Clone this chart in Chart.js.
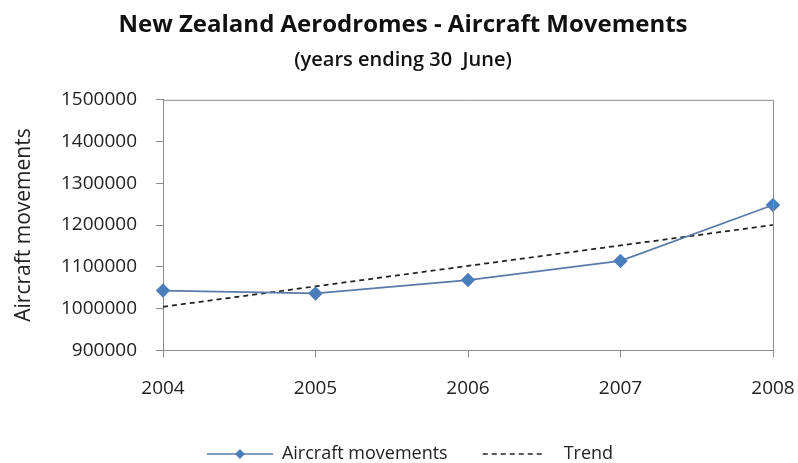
<!DOCTYPE html>
<html lang="en">
<head>
<meta charset="UTF-8" />
<title>New Zealand Aerodromes - Aircraft Movements</title>
<script src="https://cdn.jsdelivr.net/npm/chart.js"></script>
<style>
  html, body { margin: 0; padding: 0; background: #fff; }
  #wrap { width: 798px; height: 463px; }
</style>
</head>
<body>
<div id="wrap"><canvas id="chart" width="798" height="463"></canvas></div>
<script>
const years = ['2004', '2005', '2006', '2007', '2008'];
const movements = [1043000, 1036000, 1068000, 1114000, 1248000];
const trend = [1004000, 1053000, 1102000, 1151000, 1200000];
const yMin = 900000;
const yMax = 1500000;
const yStep = 100000;

const FONT = "'Open Sans', 'Liberation Sans', sans-serif";
const BLUE = '#4a7ebb';
const LINE_BLUE = '#5a7aa8';
const AXIS = '#8c8c8c';

// legend swatches: line + diamond, and dashed line
function swatch(kind) {
  const c = document.createElement('canvas');
  c.width = 80;
  c.height = 16;
  const g = c.getContext('2d');
  if (kind === 'series') {
    g.strokeStyle = LINE_BLUE;
    g.lineWidth = 1.5;
    g.beginPath();
    g.moveTo(14, 8);
    g.lineTo(80, 8);
    g.stroke();
    g.fillStyle = BLUE;
    g.beginPath();
    g.moveTo(47, 3); g.lineTo(52, 8); g.lineTo(47, 13); g.lineTo(42, 8);
    g.closePath();
    g.fill();
  } else {
    g.strokeStyle = '#222';
    g.lineWidth = 1.5;
    g.setLineDash([5, 4]);
    g.beginPath();
    g.moveTo(8, 8);
    g.lineTo(68, 8);
    g.stroke();
  }
  return c;
}

const plotBox = {
  id: 'plotBox',
  afterDatasetsDraw(chart) {
    const { ctx, chartArea: a } = chart;
    ctx.save();
    ctx.strokeStyle = AXIS;
    ctx.lineWidth = 1;
    ctx.beginPath();
    ctx.moveTo(a.left, a.top + 0.5);
    ctx.lineTo(a.right + 0.5, a.top + 0.5);
    ctx.lineTo(a.right + 0.5, a.bottom);
    ctx.stroke();
    ctx.restore();
  }
};

new Chart(document.getElementById('chart'), {
  type: 'line',
  data: {
    labels: years,
    datasets: [
      {
        label: 'Aircraft movements',
        data: movements,
        borderColor: LINE_BLUE,
        borderWidth: 1.75,
        pointStyle: 'rectRot',
        pointRadius: 6,
        pointBackgroundColor: BLUE,
        pointBorderColor: BLUE,
        tension: 0,
        fill: false
      },
      {
        label: 'Trend',
        data: trend,
        borderColor: '#222',
        borderWidth: 1.75,
        borderDash: [5, 4],
        pointRadius: 0,
        tension: 0,
        fill: false
      }
    ]
  },
  options: {
    responsive: false,
    animation: false,
    layout: { padding: { left: 8, right: 0, top: 0, bottom: -10 } },
    plugins: {
      title: {
        display: true,
        text: 'New Zealand Aerodromes - Aircraft Movements',
        color: '#111',
        font: { family: FONT, size: 24, weight: '700' },
        padding: { top: 11, bottom: 8 }
      },
      subtitle: {
        display: true,
        text: '(years ending 30  June)',
        color: '#111',
        font: { family: FONT, size: 20, weight: '600' },
        padding: { top: 0, bottom: 28 }
      },
      legend: {
        position: 'bottom',
        labels: {
          usePointStyle: true,
          pointStyleWidth: 80,
          padding: 27,
          color: '#222',
          font: { family: FONT, size: 18 },
          generateLabels: () => [
            { text: 'Aircraft movements', pointStyle: swatch('series'), fillStyle: 'transparent', strokeStyle: 'transparent', lineWidth: 0, fontColor: '#222', datasetIndex: 0 },
            { text: 'Trend', pointStyle: swatch('trend'), fillStyle: 'transparent', strokeStyle: 'transparent', lineWidth: 0, fontColor: '#222', datasetIndex: 1 }
          ]
        }
      },
      tooltip: { enabled: false }
    },
    scales: {
      x: {
        offset: false,
        grid: { display: true, drawOnChartArea: false, drawTicks: true, tickLength: 7, color: AXIS },
        border: { color: AXIS, width: 1 },
        ticks: { color: '#222', font: { family: FONT, size: 19 }, padding: 20, maxRotation: 0, autoSkip: false },
        afterFit(scale) { scale.paddingRight = 25; scale.height = scale.height - 2; }
      },
      y: {
        min: yMin,
        max: yMax,
        grid: { display: true, drawOnChartArea: false, drawTicks: true, tickLength: 7, color: AXIS },
        border: { color: AXIS, width: 1 },
        ticks: { stepSize: yStep, color: '#222', font: { family: FONT, size: 19 }, padding: 19, callback: v => String(v) },
        title: { display: true, text: 'Aircraft movements', color: '#222', font: { family: FONT, size: 21 }, padding: { top: 3, bottom: 0 } },
        afterFit(scale) { scale.width = 155; }
      }
    }
  },
  plugins: [plotBox]
});
</script>
</body>
</html>
